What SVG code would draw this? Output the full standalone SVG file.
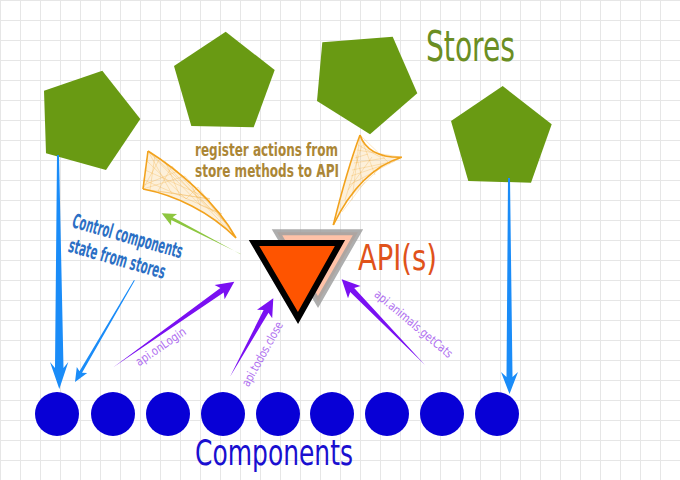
<svg xmlns="http://www.w3.org/2000/svg" width="680" height="480" viewBox="0 0 680 480">
<defs>
<pattern id="grid" width="20" height="20" patternUnits="userSpaceOnUse">
<path d="M0.5 0V20M0 0.5H20" fill="none" stroke="#e6e6e6" stroke-width="1"/>
</pattern>
<style>
.t{font-family:"DejaVu Sans Condensed","Liberation Sans Narrow","DejaVu Sans",sans-serif}
.store{fill:#699a13}
.comp{fill:#0800d6}
.purple{fill:#7a10f2}
.blue{fill:#1a8cf8}
.lbl{font-size:12px;fill:#b070f0}
.hatch{fill:none;stroke:#f2b040;stroke-width:0.5;opacity:0.6}
.edge{fill:none;stroke:#f2a21c;stroke-width:1.6}
</style>
</defs>
<rect width="680" height="480" fill="#ffffff"/>
<rect width="680" height="480" fill="url(#grid)"/>

<g id="stores">
<polygon id="store1" class="store" points="44,90.7 102.3,70.7 140.3,119 106,170 46,153.3"/>
<polygon id="store2" class="store" points="225.7,31.7 274.7,70 253.7,127.3 191.3,126 174,66"/>
<polygon id="store3" class="store" points="322.3,42.3 392.7,36.7 417.3,93.3 370,134.3 317,101"/>
<polygon id="store4" class="store" points="502.7,86 551.7,124.3 531,182.7 468.3,181 451,121"/>
</g>
<text id="stores-label" class="t" x="426" y="60.5" font-size="42" fill="#6b8e23" textLength="89" lengthAdjust="spacingAndGlyphs">Stores</text>

<g id="components">
<circle cx="57" cy="414" r="22" class="comp"/>
<circle cx="113" cy="414" r="22" class="comp"/>
<circle cx="168" cy="414" r="22" class="comp"/>
<circle cx="223" cy="414" r="22" class="comp"/>
<circle cx="278" cy="414" r="22" class="comp"/>
<circle cx="332" cy="414" r="22" class="comp"/>
<circle cx="387" cy="414" r="22" class="comp"/>
<circle cx="442" cy="414" r="22" class="comp"/>
<circle cx="497" cy="414" r="22" class="comp"/>
</g>
<text id="components-label" class="t" x="195" y="465" font-size="36" fill="#1a0fd0" textLength="158" lengthAdjust="spacingAndGlyphs">Components</text>

<g id="api">
<polygon points="277,232.3 358,232.3 318,302" fill="#ffc2a8" stroke="#a0a0a0" stroke-opacity="0.85" stroke-width="6"/>
<polygon points="254,243 340,243 298,318" fill="#fe5400" stroke="#000000" stroke-width="6"/>
<text class="t" x="358" y="270" font-size="35" fill="#e0521a" textLength="79" lengthAdjust="spacingAndGlyphs">API(s)</text>
</g>

<g id="connectors">
<g id="scribble-left">
<path d="M148,151 C175,168 215,200 236,238 C210,212 175,195 143,189 Z" fill="#f7c56a" fill-opacity="0.25"/>
<path class="hatch" d="M148,151L172,194M148,151L200,205M160,158L143,189M172,166L158,191M172,166L213,212M185,176L143,189M198,187L186,199M210,199L158,191M222,214L200,205M185,176L225,222M148,151L225,222M160,158L236,238M145,170L210,199M146,160L186,199M144,180L222,214M198,187L236,238M210,199L143,189M155,155L150,190M165,161L180,196M178,171L144,185M190,181L200,205"/>
<path class="edge" d="M148,151 C175,168 215,200 236,238 C210,212 175,195 143,189"/>
<path class="edge" d="M148,151L143,189" stroke-width="0.8"/>
</g>
<g id="scribble-right">
<path d="M360,135 Q368,158 401.7,157.3 Q360,170 333.3,225 Q347,170 360,135 Z" fill="#f7c56a" fill-opacity="0.25"/>
<path class="hatch" d="M360,135L390,164M360,135L375,175M357,150L401.7,157.3M354,163L385,158M351,176L395,161M348,190L372,157M345,202L380,168M342,212L365,182M356,155L363,182M352,170L391,162M349,185L401.7,157.3M345,200L362,145M360,135L352,200M358,145L380,157M355,158L368,154"/>
<path class="edge" d="M360,135 Q368,158 401.7,157.3" stroke-width="1"/>
<path class="edge" d="M401.7,157.3 Q360,170 333.3,225" stroke-width="2.2"/>
<path class="edge" d="M333.3,225 Q347,170 360,135" stroke-width="1"/>
</g>
<polygon points="240.3,253.7 240.6,254.3 172.6,217.2 177.1,213.9 161.7,213.3 171.1,225.5 171.2,220" fill="#8dc63f"/>
<polygon class="blue" points="57,155 59,155 63.5,368 68.3,362 59.3,389 50,362 55,368"/>
<polygon class="blue" points="134,280 134.8,280.6 82.05,372.85 87.2,372.9 75,382 76.8,366.9 79.45,371.35"/>
<polygon class="blue" points="508,178 510,178 512.5,377 518,372 509.5,394 501,372 506.5,377"/>
<polygon class="purple" points="113.3,367.3 223.7,292.6 224.6,299.2 234.3,281.7 214.6,284.9 220.4,288"/>
<polygon class="purple" points="230,376.7 268.5,312.75 272.2,318.25 273.3,298.3 257,309.85 263.6,310.05"/>
<polygon class="purple" points="425,365 354.2,288.1 360.5,286.1 341.7,279.3 348,298.3 350.2,292"/>
</g>

<g id="labels">
<text class="t" x="195" y="156" font-size="17" font-weight="bold" fill="#ab8636" textLength="143" lengthAdjust="spacingAndGlyphs">register actions from</text>
<text class="t" x="195" y="176.5" font-size="17" font-weight="bold" fill="#ab8636" textLength="144" lengthAdjust="spacingAndGlyphs">store methods to API</text>
<g transform="translate(71,227) rotate(16)">
<text class="t" x="0" y="0" font-size="20" font-weight="bold" fill="#2b6fc4" textLength="114" lengthAdjust="spacingAndGlyphs">Control components</text>
<text class="t" x="3" y="24.5" font-size="20" font-weight="bold" fill="#2b6fc4" textLength="100" lengthAdjust="spacingAndGlyphs">state from stores</text>
</g>
<text class="t lbl" transform="translate(163,350) rotate(-34.5)" x="0" y="0" text-anchor="middle" textLength="58" lengthAdjust="spacingAndGlyphs">api.onLogin</text>
<text class="t lbl" transform="translate(266,356) rotate(-61)" x="0" y="0" text-anchor="middle" textLength="72" lengthAdjust="spacingAndGlyphs">api.todos.close</text>
<text class="t lbl" transform="translate(411,327) rotate(40)" x="0" y="0" text-anchor="middle" textLength="98" lengthAdjust="spacingAndGlyphs">api.animals.getCats</text>
</g>
</svg>
